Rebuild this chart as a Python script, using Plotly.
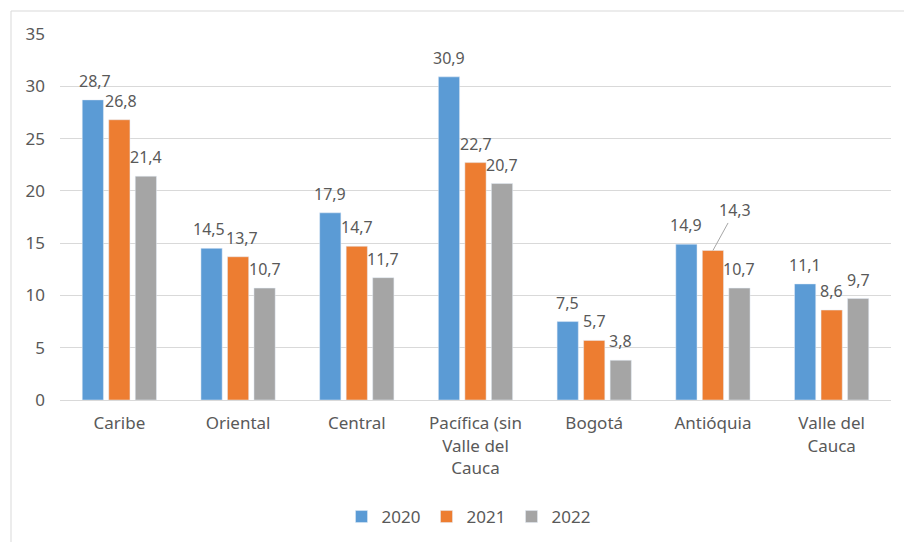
import plotly.graph_objects as go

# categorias e valores
regioes = ["Caribe", "Oriental", "Central", "Pacífica (sin<br>Valle del<br>Cauca",
           "Bogotá", "Antióquia", "Valle del<br>Cauca"]
anos = ["2020", "2021", "2022"]
v2020 = [28.7, 14.5, 17.9, 30.9, 7.5, 14.9, 11.1]
v2021 = [26.8, 13.7, 14.7, 22.7, 5.7, 14.3, 8.6]
v2022 = [21.4, 10.7, 11.7, 20.7, 3.8, 10.7, 9.7]
cores = ["#5B9BD5", "#ED7D31", "#A5A5A5"]
y_ticks = [0, 5, 10, 15, 20, 25, 30, 35]


def fmt(v):
    return f"{v:.1f}".replace(".", ",")


fonte = "Noto Sans"
cinza_txt = "#595959"
tam = 17
tam_rot = 16
# pequenos ajustes horizontais de rótulos que se encostam (px)
ajuste = {(0, 1): -3, (1, 1): 4, (0, 0): 2, (1, 0): 2}

# a página tem margem de 8px no body: figura menor e tudo deslocado
W, H, OFF = 912 - 8, 542 - 8, 8
pl, pr, pt, pb = 60 - OFF, 912 - 891, 34 - OFF, 542 - 400
plot_w = W - pl - pr
plot_h = H - pt - pb
bargap, bargroupgap = 0.33, 0.2
slot = plot_w / len(regioes) * (1 - bargap) / len(anos)

fig = go.Figure()
for i, (ano, vals, cor) in enumerate(zip(anos, [v2020, v2021, v2022], cores)):
    fig.add_trace(go.Bar(x=regioes, y=vals, name=ano, marker=dict(color=cor)))
    dx = (i - 1) * slot
    for j, (reg, v) in enumerate(zip(regioes, vals)):
        if ano == "2021" and j == 5:
            # rótulo deslocado com linha guia
            fig.add_annotation(
                x=reg, y=v, text=fmt(v), xshift=dx,
                showarrow=True, arrowhead=0, arrowwidth=1, arrowcolor="#A6A6A6",
                ax=22, ay=-40, standoff=0,
                font=dict(family=fonte, size=tam_rot, color=cinza_txt),
            )
            continue
        fig.add_annotation(
            x=reg, y=v, text=fmt(v), showarrow=False,
            xshift=dx + ajuste.get((i, j), 0), yshift=19, yanchor="middle",
            font=dict(family=fonte, size=tam_rot, color=cinza_txt),
        )


def px_x(p):
    return (p - OFF - pl) / plot_w


def px_y(p):
    return (H - pb - (p - OFF)) / plot_h


# borda da área do gráfico (estilo Excel)
fig.add_shape(type="line", xref="paper", yref="paper",
              x0=px_x(11), x1=px_x(912), y0=px_y(11), y1=px_y(11),
              line=dict(color="#D9D9D9", width=1))
fig.add_shape(type="line", xref="paper", yref="paper",
              x0=px_x(11), x1=px_x(11), y0=px_y(11), y1=px_y(542),
              line=dict(color="#D9D9D9", width=1))

fig.update_layout(
    width=W, height=H,
    margin=dict(l=pl, r=pr, t=pt, b=pb, autoexpand=False),
    paper_bgcolor="white", plot_bgcolor="white",
    barmode="group", bargap=bargap, bargroupgap=bargroupgap,
    font=dict(family=fonte, size=tam, color=cinza_txt),
    showlegend=True,
    legend=dict(orientation="h", x=px_x(469), xanchor="center", y=px_y(517), yanchor="middle",
                font=dict(size=tam, color=cinza_txt), itemwidth=30, traceorder="normal",
                entrywidth=40, entrywidthmode="pixels"),
    xaxis=dict(
        showline=True, linecolor="#D9D9D9", linewidth=1,
        ticks="", ticklabelstandoff=8,
        tickfont=dict(size=tam, color=cinza_txt),
    ),
    yaxis=dict(
        range=[0, 35], tickvals=y_ticks,
        showgrid=True, gridcolor="#D9D9D9", gridwidth=1,
        zeroline=False, showline=False, ticks="",
        ticklabelstandoff=14,
        tickfont=dict(size=tam, color=cinza_txt),
    ),
)

fig.write_html("out.html")
